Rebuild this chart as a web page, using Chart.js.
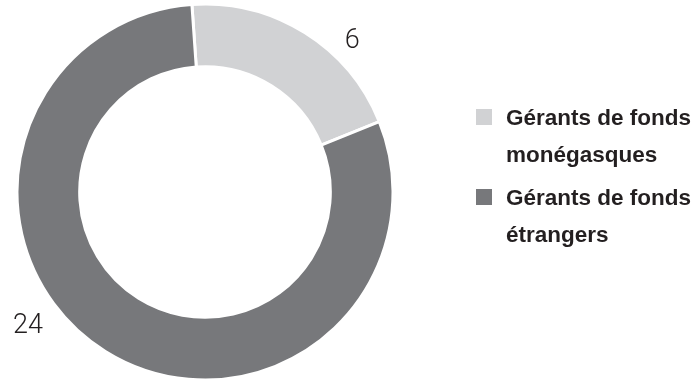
<!DOCTYPE html>
<html>
<head>
<meta charset="utf-8">
<script src="https://cdn.jsdelivr.net/npm/chart.js@4"></script>
<style>
  html, body { margin: 0; padding: 0; background: #fff; }
  #wrap { position: relative; width: 700px; height: 380px; }
  #legend { position: absolute; left: 476px; top: 99px; font-family: "Liberation Sans", Arial, sans-serif; font-weight: bold; font-size: 22.5px; line-height: 37px; color: #231f20; }
  .item { position: relative; padding-left: 30px; margin-bottom: 6px; white-space: nowrap; }
  .box { position: absolute; left: 0; top: 10px; width: 16px; height: 16px; }
</style>
</head>
<body>
<div id="wrap">
  <canvas id="myChart" width="700" height="380"></canvas>
  <div id="legend"></div>
</div>
<script>
var labels = [["Gérants de fonds", "monégasques"], ["Gérants de fonds", "étrangers"]];
var values = [6, 24];
var colors = ["#d1d2d4", "#77787b"];

// where the outside numbers sit: fraction along the slice, distance past the ring
var valuePos = [0.663, 0.575];
var valueGap = [25, 32];

const outsideLabels = {
    id: "outsideLabels",
    afterDatasetsDraw(chart) {
        var ctx = chart.ctx;
        var meta = chart.getDatasetMeta(0);
        ctx.save();
        ctx.font = "300 27px Roboto, 'Liberation Sans', sans-serif";
        ctx.fillStyle = "#231f20";
        ctx.textAlign = "center";
        ctx.textBaseline = "alphabetic";
        meta.data.forEach((arc, i) => {
            var a = arc.startAngle + (arc.endAngle - arc.startAngle) * valuePos[i];
            var r = arc.outerRadius + valueGap[i];
            ctx.fillText(values[i], arc.x + Math.cos(a) * r, arc.y + Math.sin(a) * r + 10);
        });
        ctx.restore();
    }
};

new Chart(document.getElementById("myChart"), {
    type: "doughnut",
    data: {
        labels: labels,
        datasets: [{
            data: values,
            backgroundColor: colors,
            borderColor: "#ffffff",
            borderWidth: 3,
            hoverOffset: 0,
            clip: false
        }]
    },
    options: {
        responsive: false,
        animation: false,
        cutout: 123,
        radius: 188,
        rotation: -4,
        layout: {
            padding: { left: 19, right: 309, top: 6, bottom: 2 }
        },
        plugins: {
            legend: { display: false },
            tooltip: { enabled: false }
        }
    },
    plugins: [outsideLabels]
});

document.getElementById("legend").innerHTML = labels.map((l, i) =>
    `<div class="item"><span class="box" style="background:${colors[i]}"></span>${l.join("<br>")}</div>`
).join("");
</script>
</body>
</html>
